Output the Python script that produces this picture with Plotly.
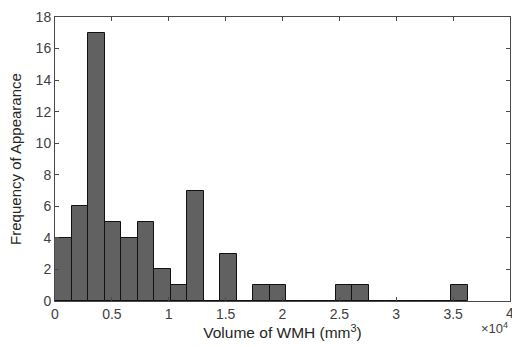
import plotly.graph_objects as go

# Data
bin_width = 1452  # mm^3
counts = [4, 6, 17, 5, 4, 5, 2, 1, 7, 0, 3, 0, 1, 1, 0, 0, 0, 1, 1, 0, 0, 0, 0, 0, 1]
bin_centers = [bin_width * (i + 0.5) for i in range(len(counts))]
x_tick_vals = [0, 5000, 10000, 15000, 20000, 25000, 30000, 35000, 40000]
x_tick_text = ["0", "0.5", "1", "1.5", "2", "2.5", "3", "3.5", "4"]
y_tick_vals = [0, 2, 4, 6, 8, 10, 12, 14, 16, 18]

FAM = "Liberation Sans, Arial, sans-serif"

fig = go.Figure()
fig.add_trace(go.Bar(
    x=bin_centers, y=counts, width=bin_width,
    marker=dict(color="#616161", line=dict(color="#111111", width=1)),
))

font = dict(family=FAM, size=14, color="#404040")
axis_common = dict(
    showline=True, mirror="ticks", linecolor="#4a4a4a", linewidth=1,
    ticks="inside", ticklen=4, tickcolor="#4a4a4a",
    showgrid=False, zeroline=False, tickfont=font, automargin=False,
)
fig.update_layout(
    width=512, height=347,
    margin=dict(l=55, r=2, t=17, b=46),
    paper_bgcolor="white", plot_bgcolor="white",
    showlegend=False, bargap=0,
    xaxis=dict(range=[0, 40000], tickvals=x_tick_vals, ticktext=x_tick_text,
               title=dict(text="Volume of WMH (mm<sup>3</sup>)", standoff=6,
                          font=dict(family=FAM, size=15.5, color="#262626")),
               **axis_common),
    yaxis=dict(range=[0, 18], tickvals=y_tick_vals,
               title=dict(text="Frequency of Appearance", standoff=10,
                          font=dict(family=FAM, size=15, color="#262626")),
               **axis_common),
)
# last tick label sits on the figure edge (partly cut, as in the reference)
fig.add_annotation(
    text=x_tick_text[-1], xref="x", yref="paper", x=x_tick_vals[-1], y=0,
    xanchor="center", yanchor="top", yshift=-2, showarrow=False, font=font,
)
fig.add_annotation(
    text="×10<sup>4</sup>", xref="paper", yref="paper", x=1.0, y=0, xanchor="right",
    yanchor="top", yshift=-17, xshift=0, showarrow=False,
    font=dict(family=FAM, size=13, color="#404040"),
)
fig.write_html("out.html", config={"displayModeBar": False},
               post_script="document.body.style.margin='0';document.body.style.overflow='hidden';")
